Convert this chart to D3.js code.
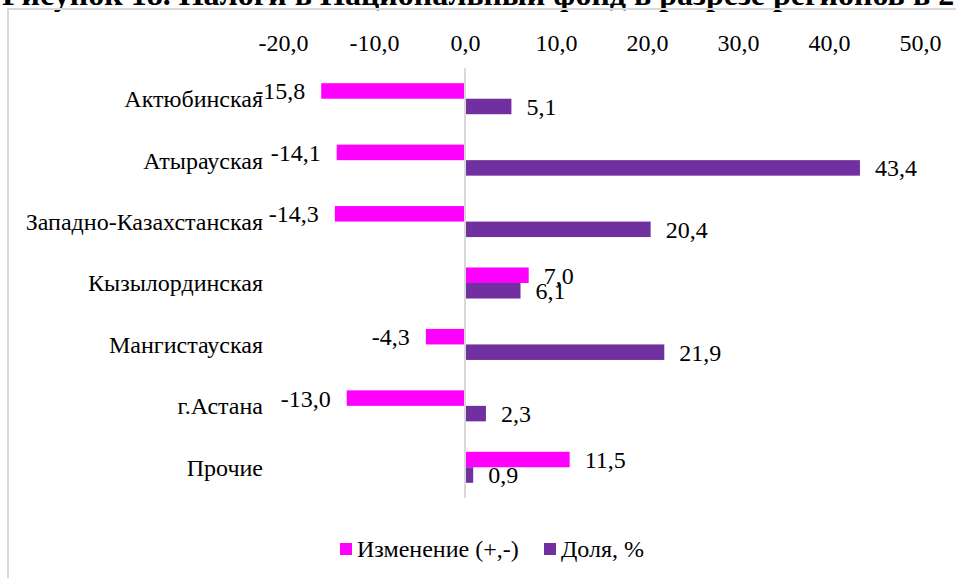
<!DOCTYPE html>
<html>
<head>
<meta charset="utf-8">
<script src="https://cdn.jsdelivr.net/npm/d3@7"></script>
<style>
  html, body { margin: 0; padding: 0; background: #fff; overflow: hidden; }
  svg { display: block; }
  text { font-family: "Liberation Serif", "Times New Roman", serif; fill: #000; }
</style>
</head>
<body>
<svg id="chart" width="956" height="578"></svg>
<script>
// ---- data ----
const categories = ["Актюбинская", "Атырауская", "Западно-Казахстанская", "Кызылординская", "Мангистауская", "г.Астана", "Прочие"];
const changeValues = [-15.8, -14.1, -14.3, 7.0, -4.3, -13.0, 11.5];
const shareValues = [5.1, 43.4, 20.4, 6.1, 21.9, 2.3, 0.9];
const seriesNames = ["Изменение (+,-)", "Доля, %"];
const tickValues = [-20, -10, 0, 10, 20, 30, 40, 50];
const titleText = "Рисунок 18. Налоги в Национальный фонд в разрезе регионов в 2";

// ---- layout ----
const colors = ["#FF00FF", "#7030A0"];
const fmt = v => v.toFixed(1).replace(".", ",");
const FS = 24;

const svg = d3.select("#chart");

// title (cut by the top edge)
svg.append("text")
  .attr("x", 2).attr("y", 5)
  .attr("font-size", 32).attr("font-weight", "bold")
  .text(titleText);

// chart border
svg.append("rect")
  .attr("x", 8).attr("y", 9).attr("width", 1000).attr("height", 700)
  .attr("fill", "none").attr("stroke", "#d9d9d9").attr("stroke-width", 2);

const x = d3.scaleLinear().domain([-20, 50]).range([283, 920]);
const y = d3.scaleBand().domain(categories).range([68, 498]).paddingInner(0.495).paddingOuter(0.2475);
const ySub = d3.scaleBand().domain(seriesNames).range([0, y.bandwidth()]);

// top axis labels
const xAxis = d3.axisTop(x).tickValues(tickValues).tickFormat(fmt).tickSize(0).tickPadding(0);
const gx = svg.append("g").attr("transform", "translate(0,51)").call(xAxis);
gx.attr("font-family", null).attr("font-size", null);
gx.select(".domain").remove();
gx.selectAll("text").attr("font-size", FS).attr("dy", 0).attr("fill", "#000");

// category labels
svg.append("g").selectAll("text").data(categories).join("text")
  .attr("x", 263)
  .attr("y", d => y(d) + y.bandwidth() / 2)
  .attr("dy", "0.35em")
  .attr("text-anchor", "end")
  .attr("font-size", FS)
  .text(d => d);

const rows = categories.map((c, i) => ({ c, vals: [changeValues[i], shareValues[i]] }));

const groups = svg.append("g").selectAll("g").data(rows).join("g")
  .attr("transform", d => `translate(0,${y(d.c)})`);

groups.selectAll("rect").data(d => d.vals.map((v, k) => ({ v, k }))).join("rect")
  .attr("x", d => x(Math.min(0, d.v)))
  .attr("width", d => Math.abs(x(d.v) - x(0)))
  .attr("y", d => ySub(seriesNames[d.k]))
  .attr("height", ySub.bandwidth())
  .attr("fill", d => colors[d.k]);

groups.selectAll("text").data(d => d.vals.map((v, k) => ({ v, k }))).join("text")
  .attr("x", d => d.v < 0 ? x(d.v) - 16 : x(d.v) + 15)
  .attr("y", d => ySub(seriesNames[d.k]) + ySub.bandwidth() / 2)
  .attr("dy", "0.35em")
  .attr("text-anchor", d => d.v < 0 ? "end" : "start")
  .attr("font-size", FS)
  .text(d => fmt(d.v));

// zero axis line
svg.append("line")
  .attr("x1", x(0)).attr("x2", x(0))
  .attr("y1", 68).attr("y2", 498)
  .attr("stroke", "#d9d9d9").attr("stroke-width", 2);

// legend
const legendItems = [
  { name: seriesNames[0], color: colors[0], x: 340 },
  { name: seriesNames[1], color: colors[1], x: 544 }
];
const lg = svg.append("g").selectAll("g").data(legendItems).join("g")
  .attr("transform", d => `translate(${d.x},549)`);
lg.append("rect").attr("x", 0).attr("y", -6).attr("width", 12).attr("height", 12).attr("fill", d => d.color);
lg.append("text").attr("x", 17).attr("dy", "0.35em").attr("font-size", FS).text(d => d.name);
</script>
</body>
</html>
